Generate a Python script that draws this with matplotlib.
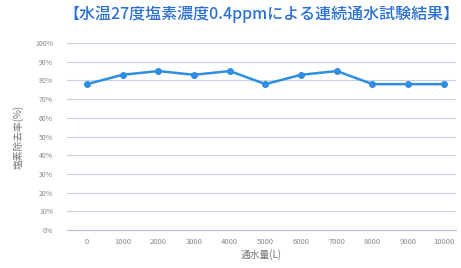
import matplotlib
matplotlib.use('Agg')
import matplotlib.pyplot as plt

plt.rcParams['font.family'] = ['Noto Sans CJK JP', 'DejaVu Sans']

volumes = ['0', '1000', '2000', '3000', '4000', '5000', '6000', '7000', '8000', '9000', '10000']
removal = [78, 83, 85, 83, 85, 78, 83, 85, 78, 78, 78]
yticks = list(range(0, 101, 10))

fig = plt.figure(figsize=(4.61, 2.68), dpi=100)
ax = fig.add_axes([67/461, 1-230/268, (456-67)/461, (230-43)/268])

x = list(range(len(volumes)))
ax.plot(x, removal, color='#2f8ee0', lw=1.8, marker='o', ms=4, zorder=3)

ax.set_xlim(-0.56, 10.34)
ax.set_ylim(0, 100)
ax.set_yticks(yticks)
ax.set_yticklabels([f'{v}%' for v in yticks], fontsize=5, color='#888888')
ax.set_xticks(x)
ax.set_xticklabels(volumes, fontsize=5.5, color='#888888')
ax.tick_params(axis='y', length=0, pad=10)
ax.tick_params(axis='x', length=0, pad=6)
ax.grid(axis='y', color='#c8cfe0', lw=0.8)
ax.set_axisbelow(True)
for s in ['top', 'right', 'left']:
    ax.spines[s].set_visible(False)
ax.spines['bottom'].set_color('#b8c0d4')

ax.set_xlabel('通水量(L)', fontsize=7, color='#777777', labelpad=2)
ax.set_ylabel('塩素除去率(%)', fontsize=7, color='#777777', labelpad=8)
fig.text(0.567, 0.945, '【水温27度塩素濃度0.4ppmによる連続通水試験結果】',
         ha='center', va='center', fontsize=11.5, fontweight='medium', color='#2a6fd4')

fig.savefig('out.png', dpi=100)
